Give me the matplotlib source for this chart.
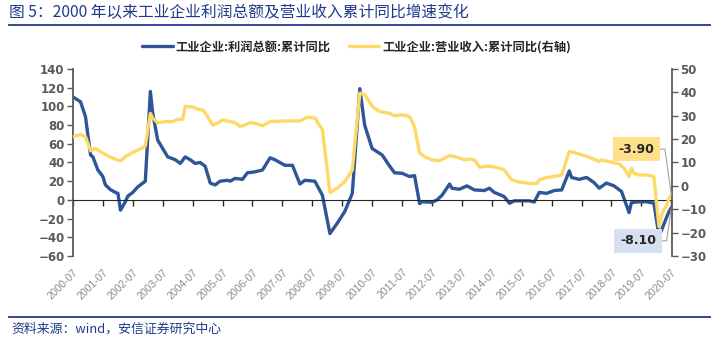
import matplotlib
matplotlib.use('Agg')
import matplotlib.pyplot as plt
from matplotlib.lines import Line2D
import pandas as pd

plt.rcParams['font.family'] = ['Noto Sans CJK SC', 'DejaVu Sans']

TITLE = '图 5：2000 年以来工业企业利润总额及营业收入累计同比增速变化'
SOURCE = '资料来源：wind，安信证券研究中心'
PROFIT_LABEL = '工业企业:利润总额:累计同比'
REVENUE_LABEL = '工业企业:营业收入:累计同比(右轴)'

# 利润总额累计同比（左轴, %）
profit_dates = [
    '2000-07', '2000-10', '2000-12', '2001-01', '2001-02', '2001-03', '2001-05', '2001-07',
    '2001-08', '2001-10', '2001-12', '2002-01', '2002-02', '2002-04', '2002-05', '2002-07',
    '2002-09', '2002-12', '2003-02', '2003-03', '2003-05', '2003-07', '2003-09', '2003-12',
    '2004-02', '2004-04', '2004-06', '2004-08', '2004-10', '2004-12', '2005-02', '2005-04',
    '2005-06', '2005-09', '2005-10', '2005-12', '2006-03', '2006-05', '2006-08', '2006-11',
    '2007-02', '2007-04', '2007-08', '2007-11', '2008-02', '2008-04', '2008-08', '2008-11',
    '2009-02', '2009-05', '2009-08', '2009-11', '2010-02', '2010-04', '2010-07', '2010-11',
    '2011-02', '2011-04', '2011-07', '2011-10', '2011-12', '2012-02', '2012-03', '2012-07',
    '2012-09', '2012-11', '2013-02', '2013-03', '2013-06', '2013-09', '2013-12', '2014-04',
    '2014-06', '2014-08', '2014-12', '2015-02', '2015-04', '2015-10', '2015-12', '2016-02',
    '2016-05', '2016-08', '2016-11', '2017-02', '2017-03', '2017-06', '2017-09', '2017-12',
    '2018-02', '2018-05', '2018-08', '2018-11', '2019-02', '2019-03', '2019-06', '2019-09',
    '2019-11', '2019-12', '2020-02', '2020-03', '2020-04', '2020-05', '2020-06', '2020-07',
]
profit_yoy = [
    110, 105, 89, 68, 48, 46, 32, 25,
    16, 11, 8, 7, -11, -2, 4, 8,
    14, 20, 116, 93, 64, 55, 46, 43,
    39, 46, 43, 39, 40, 36, 18, 16,
    20, 21, 20, 23, 22, 29, 30, 32,
    45, 43, 37, 37, 17, 21, 20, 5,
    -36, -25, -12.5, 7, 119, 80, 55, 48,
    36, 29, 28.5, 25, 26, -4, -2, -2.5,
    0, 5, 17, 12.5, 11.4, 15, 10.7, 10,
    12.5, 8, 3.5, -3.6, -1, -1, -2.3, 8,
    7, 10, 10.7, 31, 24, 22, 24, 18.5,
    12.5, 18, 15, 9, -13.6, -3, -2, -2,
    -3, -3.3, -38.3, -33, -26, -19.3, -12.8, -8.1,
]

# 营业收入累计同比（右轴, %）
revenue_dates = [
    '2000-07', '2000-10', '2000-12', '2001-01', '2001-02', '2001-04', '2001-07', '2001-10',
    '2001-12', '2002-02', '2002-04', '2002-07', '2002-10', '2002-12', '2003-02', '2003-03',
    '2003-05', '2003-08', '2003-11', '2004-01', '2004-03', '2004-04', '2004-07', '2004-09',
    '2004-11', '2005-01', '2005-03', '2005-05', '2005-07', '2005-10', '2005-12', '2006-02',
    '2006-04', '2006-06', '2006-09', '2006-11', '2007-02', '2007-05', '2008-02', '2008-05',
    '2008-08', '2008-11', '2009-02', '2009-05', '2009-08', '2009-11', '2010-02', '2010-04',
    '2010-05', '2010-07', '2010-10', '2011-02', '2011-04', '2011-07', '2011-10', '2011-12',
    '2012-02', '2012-04', '2012-07', '2012-10', '2012-12', '2013-02', '2013-05', '2013-08',
    '2013-10', '2013-12', '2014-02', '2014-05', '2014-07', '2014-10', '2014-12', '2015-03',
    '2015-06', '2015-10', '2016-01', '2016-02', '2016-05', '2016-08', '2016-11', '2017-02',
    '2017-04', '2017-07', '2017-10', '2018-02', '2018-03', '2018-06', '2018-10', '2018-12',
    '2019-02', '2019-03', '2019-04', '2019-06', '2019-09', '2019-12', '2020-02', '2020-03',
    '2020-04', '2020-05', '2020-06', '2020-07',
]
revenue_yoy = [
    21, 22, 21, 18, 15, 16, 14, 12.3,
    11.4, 10.7, 12.5, 14.3, 15.8, 17, 31, 29,
    27, 27.5, 27.5, 28.5, 28.5, 34, 33.7, 32.8,
    32.5, 29.6, 26, 26.8, 28.2, 27.5, 27, 25.4,
    26, 27, 26.5, 25.7, 27.5, 27.7, 27.8, 29.4,
    29, 24, -2.9, -1, 1.8, 6.8, 39.7, 39,
    37.5, 34, 31.8, 31, 30, 30.4, 29.6, 25.4,
    14, 12.5, 11.1, 10.8, 11.8, 13, 12.3, 11.1,
    11.5, 11.1, 8, 8.4, 8.3, 7.5, 6.8, 2.6,
    1.6, 1.1, 0.9, 2.6, 3.6, 4, 4.7, 14.7,
    14.3, 13.3, 12.3, 10.4, 11.1, 10.4, 9.4, 7.6,
    4, 7.6, 5.4, 4.7, 4.7, 4, -17.4, -13.1,
    -10, -8.8, -5.4, -3.9,
]

tick_labels = [f'{year}-07' for year in range(2000, 2021)]
left_ticks = list(range(-60, 141, 20))
right_ticks = list(range(-30, 51, 10))

BLUE = '#2E5597'
YELLOW = '#FFD966'
NAVY = '#1F3A8A'
GREY = '#595959'

p_dates = pd.to_datetime(profit_dates)
r_dates = pd.to_datetime(revenue_dates)
tick_pos = pd.to_datetime(tick_labels)

fig = plt.figure(figsize=(7.19, 3.39), dpi=100)
ax = fig.add_axes([0.1015, 0.2448, 0.8331, 0.5517])
ax2 = ax.twinx()

line_p, = ax.plot(p_dates, profit_yoy, color=BLUE, lw=2.4, solid_capstyle='round')
line_r, = ax2.plot(r_dates, revenue_yoy, color=YELLOW, lw=2.4, solid_capstyle='round')

ax.set_xlim(tick_pos[0], tick_pos[-1] + pd.Timedelta(days=8))
ax.set_ylim(left_ticks[0], left_ticks[-1])
ax2.set_ylim(right_ticks[0], right_ticks[-1])
ax.set_yticks(left_ticks)
ax2.set_yticks(right_ticks)
ax.set_xticks(tick_pos)
ax.set_xticklabels(tick_labels)

# 左轴：x 轴线放在 0 处，只画刻度线
for side in ['top', 'right']:
    ax.spines[side].set_visible(False)
ax.spines['bottom'].set_position(('data', 0))
ax.spines['bottom'].set_color('#262626')
ax.spines['left'].set_color(GREY)
ax.spines['left'].set_linewidth(1.3)
ax.tick_params(axis='x', direction='out', length=4, width=1, color='#262626', labelbottom=False)
ax.tick_params(axis='y', direction='out', length=4, width=1, color=GREY,
               labelsize=8.5, labelcolor=GREY, pad=2)

# 右轴 + 底部日期标签
for side in ['top', 'left', 'bottom']:
    ax2.spines[side].set_visible(False)
ax2.spines['right'].set_color(GREY)
ax2.spines['right'].set_linewidth(1.3)
ax2.tick_params(axis='y', direction='out', length=4, width=1, color=GREY,
                labelsize=8.5, labelcolor=GREY, pad=2)
ax2.xaxis.set_visible(True)
ax2.tick_params(axis='x', length=0, labelsize=7.5, labelcolor='#8C8C8C', pad=8,
                labelbottom=True)
for lbl in ax2.get_xticklabels():
    lbl.set_rotation(45)
    lbl.set_ha('right')
    lbl.set_rotation_mode('anchor')
    lbl.set_family('Liberation Sans')
for lbl in ax.get_yticklabels() + ax2.get_yticklabels():
    lbl.set_fontweight('bold')
    lbl.set_family('DejaVu Sans')

# 最新值标注
ax2.annotate(f'{revenue_yoy[-1]:.2f}', xy=(r_dates[-1], revenue_yoy[-1]),
             xytext=(-25, 33), textcoords='offset points', ha='center', va='center',
             fontsize=9, fontweight='bold', color='#262626', family='DejaVu Sans',
             bbox=dict(boxstyle='square,pad=0.45', fc='#FFE08A', ec='none'),
             arrowprops=dict(arrowstyle='-', color='#A6A6A6', lw=0.8, shrinkA=0, shrinkB=0,
                             connectionstyle='angle,angleA=0,angleB=98,rad=0'))
ax.annotate(f'{profit_yoy[-1]:.2f}', xy=(p_dates[-1], profit_yoy[-1]),
            xytext=(-24, -24), textcoords='offset points', ha='center', va='center',
            fontsize=9, fontweight='bold', color='#262626', family='DejaVu Sans',
            bbox=dict(boxstyle='square,pad=0.45', fc='#D6E0F0', ec='none'),
            arrowprops=dict(arrowstyle='-', color='#A6A6A6', lw=0.8, shrinkA=0, shrinkB=0,
                            connectionstyle='angle,angleA=0,angleB=82,rad=0'))

fig.legend([line_p, line_r], [PROFIT_LABEL, REVENUE_LABEL], loc='center',
           bbox_to_anchor=(0.496, 1 - 47 / 339), ncol=2, frameon=False,
           prop={'size': 8.8, 'weight': 'bold'}, handlelength=2.5,
           handletextpad=0.25, columnspacing=1.5, labelcolor='#262626')

fig.text(0.012, 1 - 13 / 339, TITLE, color=NAVY, fontsize=11.3, va='center')
fig.add_artist(Line2D([0.013, 0.988], [1 - 25 / 339] * 2, color=NAVY, lw=1.3))
fig.add_artist(Line2D([0.013, 0.988], [1 - 317 / 339] * 2, color=NAVY, lw=1.3))
fig.text(0.016, 1 - 329 / 339, SOURCE, color=NAVY, fontsize=9.3, va='center', style='italic')

fig.savefig('out.png', dpi=100)
